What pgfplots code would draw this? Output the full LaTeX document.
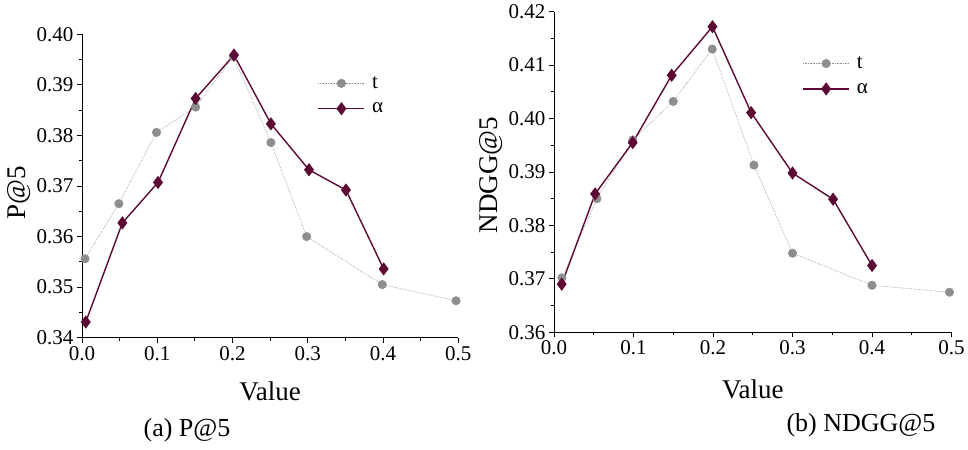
\documentclass[border=0pt]{standalone}
\usepackage{fontspec}
\setmainfont{Liberation Serif}
\usepackage{graphicx}
\usepackage{pgfplots}
\pgfplotsset{compat=1.18}
\definecolor{maroon}{RGB}{92,10,53}
\definecolor{tgray}{RGB}{142,142,142}

\pgfplotsset{
 myaxis/.style={
  scale only axis,
  axis x line*=bottom, axis y line*=left,
  axis line style={-, line width=0.8bp, black},
  every outer x axis line/.append style={-},
  every outer y axis line/.append style={-},
  xmin=0, xmax=0.5,
  xtick={0,0.1,0.2,0.3,0.4,0.5},
  minor x tick num=1, minor y tick num=1,
  tick align=outside,
  major tick length=5bp, minor tick length=3bp,
  tick style={black, line width=0.8bp},
  xticklabel style={/pgf/number format/fixed, /pgf/number format/fixed zerofill, /pgf/number format/precision=1},
  yticklabel style={/pgf/number format/fixed, /pgf/number format/fixed zerofill, /pgf/number format/precision=2},
  ticklabel style={font=\rmfamily\fontsize{21bp}{24bp}\selectfont},
  /pgf/number format/assume math mode=true,
  label style={font=\rmfamily\fontsize{27bp}{32bp}\selectfont},
  xlabel={Value},
  legend style={draw=none, fill=none, font=\rmfamily\fontsize{21bp}{22bp}\selectfont, row sep=9bp, cells={anchor=west},
    /tikz/every odd column/.append style={column sep=5bp}},
  legend image code/.code={\draw[mark repeat=2, mark phase=2] plot coordinates {(0bp,0bp) (23bp,0bp) (46bp,0bp)};},
  clip=false,
 },
 tser/.style={color=tgray, densely dotted, line width=0.6bp, mark=*, mark size=4.2bp, mark options={solid, fill=tgray, draw=tgray}},
 aser/.style={color=maroon, solid, line width=1.4bp, mark=diamond*, mark size=5.5bp, mark options={solid, fill=maroon, draw=maroon}},
}

\begin{document}
\begin{tikzpicture}[x=1bp,y=1bp]
\path[use as bounding box] (0,0) rectangle (968,450);

% (a) P@5
\begin{axis}[myaxis,
  at={(82bp,112.3bp)}, anchor=south west,
  width=376.3bp, height=303.4bp,
  ymin=0.34, ymax=0.40,
  ytick={0.34,0.35,0.36,0.37,0.38,0.39,0.40},
  ylabel={P@5},
  xlabel style={at={(axis description cs:0.5,0)}, anchor=center, yshift=-54bp},
  ylabel style={at={(axis description cs:-0.167,0.477)}, anchor=center},
  legend style={at={(axis description cs:0.618,0.874)}, anchor=north west},
]
\addplot[tser] coordinates {(0.004,0.3556) (0.049,0.3665) (0.099,0.3806) (0.151,0.3856) (0.201,0.3956) (0.251,0.3786) (0.2985,0.3600) (0.399,0.3505) (0.497,0.3473)};
\addlegendentry{t}
\addplot[aser] coordinates {(0.005,0.3431) (0.0536,0.3627) (0.101,0.3707) (0.151,0.3873) (0.202,0.3959) (0.251,0.3823) (0.3016,0.3732) (0.3507,0.3692) (0.4008,0.3536)};
\addlegendentry{α}
\end{axis}

% (b) NDGG@5
\begin{axis}[myaxis,
  at={(554bp,117.7bp)}, anchor=south west,
  width=397.5bp, height=320.6bp,
  ymin=0.36, ymax=0.42,
  ytick={0.36,0.37,0.38,0.39,0.40,0.41,0.42},
  ylabel={NDGG@5},
  xlabel style={at={(axis description cs:0.5,0)}, anchor=center, yshift=-57bp},
  ylabel style={at={(axis description cs:-0.158,0.49)}, anchor=center},
  legend style={at={(axis description cs:0.617,0.872)}, anchor=north west},
]
\addplot[tser] coordinates {(0.010,0.3702) (0.054,0.3850) (0.099,0.3960) (0.150,0.4032) (0.199,0.4130) (0.2515,0.3913) (0.300,0.3748) (0.400,0.3688) (0.4975,0.3675)};
\addlegendentry{t}
\addplot[aser] coordinates {(0.0097,0.3690) (0.0517,0.3859) (0.099,0.3955) (0.148,0.4081) (0.1993,0.4172) (0.248,0.4011) (0.300,0.3898) (0.351,0.3849) (0.400,0.3725)};
\addlegendentry{α}
\end{axis}

\node[font=\fontsize{26bp}{30bp}\selectfont] at (187,20) {(a) P@5};
\node[font=\fontsize{26bp}{30bp}\selectfont] at (861,25) {(b) NDGG@5};
\end{tikzpicture}
\end{document}
